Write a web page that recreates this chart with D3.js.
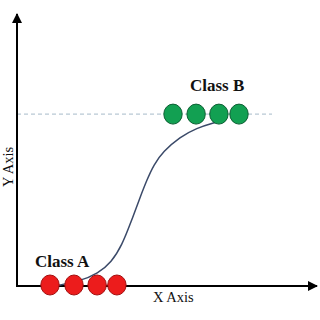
<!DOCTYPE html>
<html>
<head>
<meta charset="utf-8">
<script src="https://cdn.jsdelivr.net/npm/d3@7"></script>
<style>
  html, body { margin: 0; padding: 0; background: #fff; }
  svg { display: block; }
  text { font-family: 'Liberation Serif', 'Times New Roman', serif; fill: #111; }
</style>
</head>
<body>
<div class="canvas"></div>
<script>
// data (x, y on a 0-100 scale)
const classA = [11, 19, 26.7, 33.3];
const classALevel = 0;
const classB = [52, 59.7, 67.3, 74];
const classBLevel = 63.2;
const thresholdEnd = 85;
const curveX = [12.7, 21, 27, 31.5, 35, 38, 41, 43.3, 45.6, 48.7, 54.3, 60, 65.3, 68.3];
const curveY = [0, 1.8, 4.6, 8.8, 15, 23.5, 32.5, 39, 44.6, 49.4, 54.8, 58.1, 59.9, 60.7];
const labels = ['Class A', 'Class B'];
const axisLabels = ['X Axis', 'Y Axis'];

const width = 320;
const height = 320;

const svg = d3
  .select('.canvas')
  .append('svg')
  .attr('width', width)
  .attr('height', height);

// scales
const x = d3.scaleLinear().domain([0, 100]).range([17, 317]);
const y = d3.scaleLinear().domain([0, 100]).range([286, 14]);

// arrow marker
svg
  .append('defs')
  .append('marker')
  .attr('id', 'arrow')
  .attr('viewBox', '0 0 10 10')
  .attr('refX', 9)
  .attr('refY', 5)
  .attr('markerWidth', 5)
  .attr('markerHeight', 5)
  .attr('markerUnits', 'strokeWidth')
  .attr('orient', 'auto')
  .append('path')
  .attr('d', 'M0,0 L10,5 L0,10 z')
  .attr('fill', '#000');

// dashed threshold line
svg
  .append('line')
  .attr('x1', x(0))
  .attr('x2', x(thresholdEnd))
  .attr('y1', y(classBLevel))
  .attr('y2', y(classBLevel))
  .attr('stroke', '#a7bac9')
  .attr('stroke-width', 1)
  .attr('stroke-dasharray', '4,3');

// axes
svg
  .append('line')
  .attr('x1', x(0))
  .attr('x2', x(100))
  .attr('y1', y(0))
  .attr('y2', y(0))
  .attr('stroke', '#000')
  .attr('stroke-width', 2)
  .attr('marker-end', 'url(#arrow)');

svg
  .append('line')
  .attr('x1', x(0))
  .attr('x2', x(0))
  .attr('y1', y(0) + 1)
  .attr('y2', y(100))
  .attr('stroke', '#000')
  .attr('stroke-width', 2)
  .attr('marker-end', 'url(#arrow)');

// sigmoid curve
const line = d3
  .line()
  .x((d, i) => x(curveX[i]))
  .y(d => y(d))
  .curve(d3.curveBasis);

svg
  .append('path')
  .datum(curveY)
  .attr('fill', 'none')
  .attr('stroke', '#3b4a69')
  .attr('stroke-width', 1.5)
  .attr('d', line);

// class points
svg
  .selectAll('.a')
  .data(classA)
  .enter()
  .append('ellipse')
  .attr('class', 'a')
  .attr('cx', d => x(d))
  .attr('cy', y(classALevel) - 1)
  .attr('rx', 9.2)
  .attr('ry', 10)
  .attr('fill', '#ec1c1c')
  .attr('stroke', '#a30f0f')
  .attr('stroke-width', 1);

svg
  .selectAll('.b')
  .data(classB)
  .enter()
  .append('ellipse')
  .attr('class', 'b')
  .attr('cx', d => x(d))
  .attr('cy', y(classBLevel))
  .attr('rx', 9.2)
  .attr('ry', 10)
  .attr('fill', '#12a052')
  .attr('stroke', '#0b5e32')
  .attr('stroke-width', 1);

// class labels
svg
  .append('text')
  .attr('x', x(classA[0]) - 15)
  .attr('y', y(classALevel) - 19)
  .attr('font-size', 17)
  .attr('font-weight', 'bold')
  .text(labels[0]);

svg
  .append('text')
  .attr('x', x(classB[0]) + 17)
  .attr('y', y(classBLevel) - 23)
  .attr('font-size', 17)
  .attr('font-weight', 'bold')
  .text(labels[1]);

// axis labels
svg
  .append('text')
  .attr('x', 153)
  .attr('y', 302)
  .attr('font-size', 14.5)
  .text(axisLabels[0]);

svg
  .append('text')
  .attr('transform', 'translate(12.5, 167) rotate(-90)')
  .attr('text-anchor', 'middle')
  .attr('font-size', 14.5)
  .text(axisLabels[1]);
</script>
</body>
</html>
